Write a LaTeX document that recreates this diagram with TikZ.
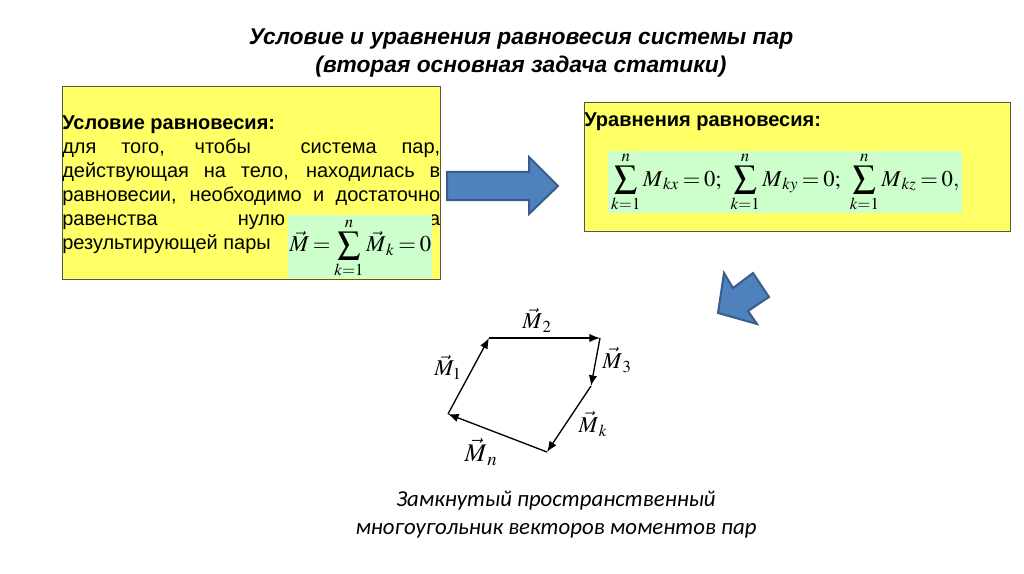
\documentclass[tikz,border=0pt]{standalone}
\usepackage{mathptmx}
\usepackage[no-math]{fontspec}
\setmainfont{Liberation Sans}
\newfontfamily\capfont{Carlito}
\usepackage{amsmath}
\usetikzlibrary{arrows.meta}
\definecolor{boxyellow}{HTML}{FFFF66}
\definecolor{eqgreen}{HTML}{CCFFCC}
\definecolor{arrowblue}{HTML}{4F81BD}
\definecolor{arrowedge}{HTML}{385D8A}
\newcommand{\vecM}{\vec{M}}
\begin{document}
\begin{tikzpicture}[x=0.75pt,y=-0.75pt,>={Latex[length=2.8mm,width=2.2mm]},
  yellowbox/.style={draw=black!75!yellow,line width=0.6pt,fill=boxyellow},
  eqbox/.style={fill=eqgreen,inner sep=0pt,anchor=north west},
  blockarrow/.style={draw=arrowedge,line width=1.5pt,fill=arrowblue,line join=miter},
  title/.style={font=\fontsize{17.1}{20.5}\selectfont\bfseries\itshape,align=center,inner sep=0pt},
  body/.style={font=\fontsize{15}{18}\selectfont,text width=283.5pt,align=justify,inner sep=0pt,anchor=north west},
  eqtext/.style={font=\fontsize{17}{20}\selectfont,inner sep=0pt},
  vecline/.style={->,line width=1pt},
  vlabel/.style={font=\fontsize{17}{19}\selectfont,inner sep=0pt}]
  \useasboundingbox (0,0) rectangle (1024,574);

  \node[title] (title) at (521,53) {Условие и уравнения равновесия системы пар\\(вторая основная задача статики)};

  % left box
  \draw[yellowbox] (62,86) rectangle (440,279);
  \node[body] (cond) at (62,115) {\textbf{Условие равновесия:}\\[0pt]
    для того, чтобы \ система пар,\linebreak
    действующая на тело, находилась в\linebreak
    равновесии, необходимо и достаточно\linebreak
    равенства\hspace{60pt}нулю\hfill а\linebreak
    результирующей пары};
  \node[eqbox,minimum width=108pt,minimum height=47pt] (sumbox) at (288,215) {};
  \node[eqtext,yshift=-1pt] (sumeq) at (sumbox.center) {$\thickmuskip=3mu\displaystyle\vecM=\sum_{k=1}^{n}\vecM_{\,k}=0$};

  % right box
  \draw[yellowbox] (584,102) rectangle (1010,231);
  \node[font=\fontsize{15}{18}\selectfont\bfseries,anchor=base west,inner sep=0pt] (eqhead) at (584,127) {Уравнения равновесия:};
  \node[eqbox,minimum width=265.5pt,minimum height=46.5pt] (eqs) at (608,151) {};
  \node[eqtext] (eqsum) at (eqs.center) {$\thickmuskip=3mu\displaystyle\sum_{k=1}^{n}M_{\,kx}=0;\ \sum_{k=1}^{n}M_{\,ky}=0;\ \sum_{k=1}^{n}M_{\,kz}=0,$};

  % block arrows
  \draw[blockarrow] (447,172) -- (529,172) -- (529,157) -- (558,186) -- (529,214) -- (529,200) -- (447,200) -- cycle;
  \draw[blockarrow] (718,313) -- (724,273) -- (733,288) -- (753,273) -- (769,297) -- (748,311) -- (757,324) -- cycle;

  % polygon of moments
  \coordinate (p1) at (448,414);
  \coordinate (p2) at (489,338);
  \coordinate (p3) at (600,338);
  \coordinate (p4) at (591,386);
  \coordinate (p5) at (547,452);
  \draw[vecline] (p1) -- (p2);
  \draw[vecline] (p2) -- (p3);
  \draw[vecline] (p3) -- (p4);
  \draw[vecline] (p4) -- (p5);
  \draw[vecline] (p5) -- (p1);
  \node[vlabel] (m1) at (448,367) {$\vecM_{1}$};
  \node[vlabel] (m2) at (537,320) {$\vecM_{\,2}$};
  \node[vlabel] (m3) at (617,360) {$\vecM_{\,3}$};
  \node[vlabel] (mk) at (593,424) {$\vecM_{\,k}$};
  \node[vlabel,font=\fontsize{19}{21}\selectfont] (mn) at (481,452) {$\vecM_{\,n}$};

  \node[font=\fontsize{17.1}{21}\selectfont\capfont\itshape,align=center,inner sep=0pt] (caption) at (556,515) {Замкнутый пространственный\\многоугольник векторов моментов пар};
\end{tikzpicture}
\end{document}
